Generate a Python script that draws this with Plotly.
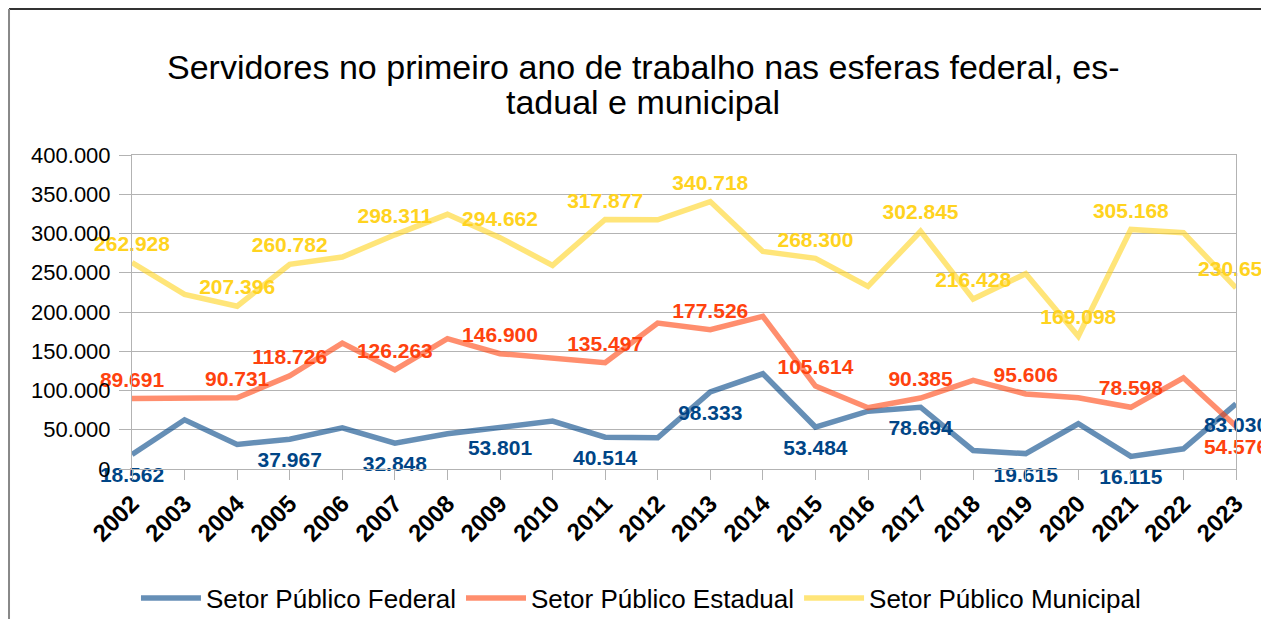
import plotly.graph_objects as go

years = [str(y) for y in range(2002, 2024)]

federal = [18562, 62700, 31200, 37967, 52500, 32848, 44900, 53801, 61000, 40514, 39800,
           98333, 121300, 53484, 73700, 78694, 23600, 19615, 57600, 16115, 25700, 83030]
estadual = [89691, 90600, 90731, 118726, 160400, 126263, 166000, 146900, 141300, 135497, 185900,
            177526, 194400, 105614, 78000, 90385, 112800, 95606, 90700, 78598, 116200, 54576]
municipal = [262928, 222400, 207396, 260782, 270000, 298311, 324400, 294662, 259400, 317877, 317500,
             340718, 277200, 268300, 232600, 302845, 216428, 248800, 169098, 305168, 301000, 230656]

federal_labeled = ["2002", "2005", "2007", "2009", "2011", "2013", "2015", "2017", "2019", "2021", "2023"]
estadual_labeled = ["2002", "2004", "2005", "2007", "2009", "2011", "2013", "2015", "2017", "2019", "2021", "2023"]
municipal_labeled = ["2002", "2004", "2005", "2007", "2009", "2011", "2013", "2015", "2017", "2018", "2020", "2021", "2023"]

names = ["Setor Público Federal", "Setor Público Estadual", "Setor Público Municipal"]
line_colors = ["rgba(0,69,134,0.6)", "rgba(255,66,14,0.6)", "rgba(255,211,32,0.6)"]
label_colors = ["#004586", "#ff420e", "#ffd320"]

title_line1 = "Servidores no primeiro ano de trabalho nas esferas federal, es-"
title_line2 = "tadual e municipal"


def fmt(v):
    return f"{v:,}".replace(",", ".")


def labels(vals, labeled):
    return [fmt(v) if y in labeled else "" for y, v in zip(years, vals)]


series = [federal, estadual, municipal]
labeled_sets = [federal_labeled, estadual_labeled, municipal_labeled]
positions = [
    ["bottom center"] * len(years),
    ["top center"] * (len(years) - 1) + ["bottom center"],
    ["top center"] * len(years),
]

fig = go.Figure()
for vals, name, col in zip(series, names, line_colors):
    fig.add_trace(go.Scatter(x=years, y=vals, name=name, mode="lines",
                             line=dict(color=col, width=5.5), hoverinfo="skip"))
for vals, lab, col, pos in zip(series, labeled_sets, label_colors, positions):
    sizes = [18 if p.startswith("bottom") else 9 for p in pos]
    fig.add_trace(go.Scatter(x=years, y=vals, mode="markers+text", showlegend=False,
                             text=labels(vals, lab), textposition=pos,
                             marker=dict(size=sizes, opacity=0),
                             textfont=dict(family="Liberation Sans", size=21, color=col, weight="bold"),
                             hoverinfo="skip", cliponaxis=False))

grid = "#b3b3b3"
fig.update_layout(
    width=1269, height=619,
    paper_bgcolor="white", plot_bgcolor="white",
    margin=dict(l=124, r=41, t=147, b=158),
    separators=",.",
    font=dict(family="Liberation Sans", color="black"),
    showlegend=True,
    legend=dict(orientation="h", xref="container", yref="container",
                x=0.4988, xanchor="center", y=0.0468, yanchor="middle",
                font=dict(family="Liberation Sans", size=26, color="black"),
                itemwidth=60, tracegroupgap=0),
    xaxis=dict(type="category", range=[0, 21], showgrid=False,
               showline=True, linecolor=grid, linewidth=1, mirror=True,
               ticks="outside", ticklen=10, tickcolor=grid, tickangle=-45,
               tickfont=dict(family="Liberation Sans", size=24, color="black", weight="bold")),
    yaxis=dict(range=[0, 400000], dtick=50000, tickformat=",d",
               showgrid=True, gridcolor=grid, gridwidth=1,
               showline=True, linecolor=grid, linewidth=1, mirror=True,
               zeroline=False,
               ticks="outside", ticklen=12, tickcolor=grid, ticklabelstandoff=4,
               tickfont=dict(family="Liberation Sans", size=22, color="black")),
    annotations=[
        dict(text=title_line1, xref="paper", yref="paper", x=0.4629, y=1.2803,
             xanchor="center", yanchor="middle", showarrow=False,
             font=dict(family="Liberation Sans", size=34, color="black")),
        dict(text=title_line2, xref="paper", yref="paper", x=0.4629, y=1.1688,
             xanchor="center", yanchor="middle", showarrow=False,
             font=dict(family="Liberation Sans", size=34, color="black")),
    ],
    shapes=[
        dict(type="line", xref="paper", yref="paper", x0=-0.1114, x1=1.04, y0=1.465, y1=1.465,
             line=dict(color="#333333", width=2)),
        dict(type="line", xref="paper", yref="paper", x0=-0.1114, x1=-0.1114, y0=1.465, y1=-0.6,
             line=dict(color="#888888", width=2)),
    ],
)

fig.write_html("out.html")
